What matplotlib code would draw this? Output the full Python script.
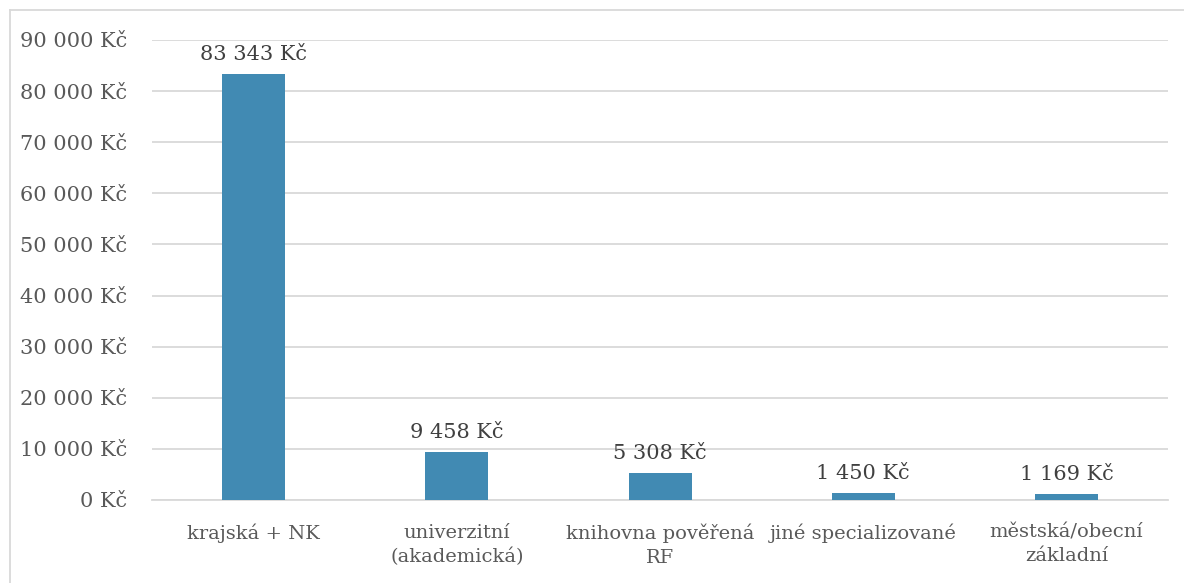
import matplotlib
matplotlib.use("Agg")
import matplotlib.pyplot as plt
from matplotlib.lines import Line2D
from matplotlib.ticker import FuncFormatter, MultipleLocator

# Data.
categories = [
    "krajská + NK",
    "univerzitní\n(akademická)",
    "knihovna pověřená\nRF",
    "jiné specializované",
    "městská/obecní\nzákladní",
]
values = [83343, 9458, 5308, 1450, 1169]


def kc(v, pos=None):
    return "{:,}".format(int(v)).replace(",", " ") + " Kč"


plt.rcParams["font.family"] = ["DejaVu Serif"]
text_color = "#595959"
grid_color = "#D9D9D9"

fig = plt.figure(figsize=(11.84, 5.83), dpi=100)
ax = fig.add_axes([0.1284, 0.1424, 0.8581, 0.789])

x = range(len(categories))
bars = ax.bar(x, values, width=0.31, color="#418AB3", zorder=3)

for b, v in zip(bars, values):
    ax.annotate(kc(v), (b.get_x() + b.get_width() / 2, v),
                xytext=(0, 7), textcoords="offset points",
                ha="center", va="bottom", fontsize=15, color="#404040")

ax.set_xlim(-0.5, len(categories) - 0.5)
ax.set_ylim(0, 90000)
ax.yaxis.set_major_locator(MultipleLocator(10000))
ax.yaxis.set_major_formatter(FuncFormatter(kc))
ax.set_xticks(list(x))
ax.set_xticklabels(categories, linespacing=1.4, fontsize=14)

ax.grid(axis="y", color=grid_color, linewidth=1.3, zorder=0)
for side in ["top", "right", "left"]:
    ax.spines[side].set_visible(False)
ax.spines["bottom"].set_color(grid_color)
ax.spines["bottom"].set_linewidth(1.3)
ax.tick_params(axis="y", length=0, labelsize=15, colors=text_color, pad=18)
ax.tick_params(axis="x", length=0, colors=text_color, pad=17)

# Chart frame (left and top edges only are visible).
x0 = 10 / 1184
y0 = 1 - 10 / 583
fig.add_artist(Line2D([x0, x0], [0, y0], transform=fig.transFigure,
                      color=grid_color, linewidth=1.3))
fig.add_artist(Line2D([x0, 1], [y0, y0], transform=fig.transFigure,
                      color=grid_color, linewidth=1.3))

fig.savefig("out.png", dpi=100)
